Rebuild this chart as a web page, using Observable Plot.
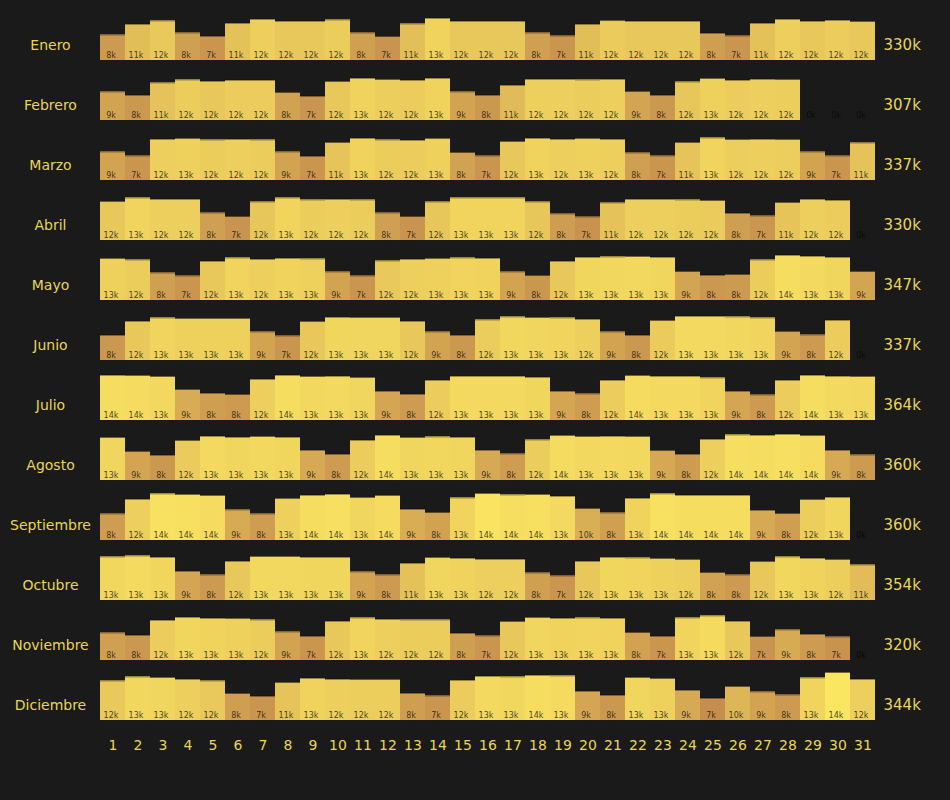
<!DOCTYPE html>
<html>
<head>
<meta charset="utf-8">
<script src="https://cdn.jsdelivr.net/npm/d3@7"></script>
<script src="https://cdn.jsdelivr.net/npm/@observablehq/plot@0.6"></script>
<style>
  html, body { margin: 0; padding: 0; background: #1a1a1a; }
  #chart { width: 950px; height: 800px; }
</style>
</head>
<body>
<div id="chart"></div>
<script>
const months = ["Enero","Febrero","Marzo","Abril","Mayo","Junio","Julio","Agosto","Septiembre","Octubre","Noviembre","Diciembre"];
const days = d3.range(1, 32);
const totals = [330, 307, 337, 330, 347, 337, 364, 360, 360, 354, 320, 344];

// daily values, thousands
const enero      = [7.7,10.9,11.9,8.3,7.3,11.2,12.4,11.8,11.8,12.2,8.3,7.2,11.0,12.7,11.8,11.8,11.8,8.3,7.4,10.9,12.0,11.8,11.8,11.8,8.2,7.4,11.2,12.4,11.8,12.1,11.7];
const febrero    = [8.6,7.6,11.3,12.2,11.8,12.1,12.1,8.4,7.3,11.7,12.7,12.3,12.1,12.7,8.6,7.6,10.6,12.4,12.4,12.2,12.4,8.7,7.6,11.6,12.6,12.1,12.4,12.3,0,0,0];
const marzo      = [8.6,7.4,12.4,12.6,12.2,12.4,12.2,8.6,7.3,11.4,12.7,12.2,12.1,12.6,8.4,7.4,11.7,12.7,12.4,12.6,12.4,8.3,7.4,11.4,12.8,12.3,12.4,12.3,8.6,7.4,11.3];
const abril      = [11.7,12.8,12.4,12.4,8.3,7.2,11.6,12.8,12.2,12.4,12.2,8.3,7.2,11.6,12.8,12.8,12.8,11.6,8.0,7.1,11.3,12.4,12.4,12.2,12.0,8.2,7.4,11.4,12.4,12.1,0];
const mayo       = [12.6,12.2,8.3,7.4,11.8,12.8,12.4,12.7,12.5,8.6,7.4,11.9,12.4,12.6,12.8,12.7,8.6,7.5,11.8,13.0,13.1,13.2,13.0,8.7,7.6,7.8,12.2,13.6,13.3,13.0,8.7];
const junio      = [7.6,11.8,12.8,12.6,12.6,12.6,8.6,7.4,11.7,13.0,12.9,12.9,11.8,8.6,7.6,12.2,13.1,12.9,12.8,12.4,8.6,7.6,12.0,13.3,13.3,13.1,12.8,8.7,7.7,12.1,0];
const julio      = [13.6,13.5,13.2,9.3,8.2,7.8,12.4,13.6,13.2,13.3,12.9,8.8,7.9,12.1,13.3,13.3,13.3,13.0,8.8,8.0,12.1,13.5,13.3,13.3,12.8,8.8,7.7,12.1,13.6,13.3,13.2];
const agosto     = [12.9,8.7,7.6,12.0,13.3,13.0,13.2,13.0,9.1,7.9,12.1,13.6,12.9,13.1,13.0,9.1,8.0,12.2,13.5,13.2,13.3,13.2,9.0,7.9,12.4,13.7,13.6,13.9,13.5,9.1,7.7];
const septiembre = [8.0,12.4,14.0,13.8,13.5,9.2,8.0,12.6,13.6,13.9,12.9,13.5,9.4,8.4,12.8,14.1,13.7,13.8,13.3,9.6,8.3,12.7,14.0,13.6,13.6,13.6,9.1,8.1,12.3,13.0,0];
const octubre    = [13.1,13.4,13.0,8.8,7.7,11.8,13.2,13.2,13.0,13.0,8.6,7.7,11.2,12.9,12.7,12.4,12.4,8.3,7.4,11.8,13.0,12.8,12.6,12.3,8.4,7.7,11.7,13.1,12.7,12.3,10.7];
const noviembre  = [8.3,7.6,12.1,13.0,12.7,12.6,12.2,8.6,7.3,11.8,12.8,12.4,12.2,12.2,8.2,7.4,11.7,12.9,12.7,12.8,12.7,8.4,7.3,12.8,13.4,11.8,7.2,9.2,7.9,7.1,0];
const diciembre  = [11.9,13.1,12.9,12.4,11.9,8.1,7.3,11.4,12.7,12.4,12.3,12.3,8.2,7.4,12.1,13.3,13.1,13.6,13.4,8.8,7.6,12.9,12.6,9.1,6.7,10.2,8.6,7.7,12.8,14.4,12.4];

const series = [enero, febrero, marzo, abril, mayo, junio, julio, agosto, septiembre, octubre, noviembre, diciembre];

const data = [];
months.forEach((m, i) => {
  series[i].forEach((v, j) => {
    data.push({month: m, day: days[j], value: v, total: totals[i]});
  });
});

const yellow = "#e9d55a";

const chart = Plot.plot({
  width: 950,
  height: 800,
  marginTop: 0,
  marginBottom: 80,
  marginLeft: 100,
  marginRight: 75,
  style: {background: "#1a1a1a", color: yellow, fontFamily: "DejaVu Sans", fontSize: "14px"},
  x: {domain: days, padding: 0, tickSize: 0, tickPadding: 20, label: null},
  y: {domain: [0, 18], axis: null},
  fy: {domain: months, padding: 0, axis: null},
  color: {type: "linear", domain: [6.6, 14.4], range: ["#c48d4d", "#fbe662"], clamp: true},
  facet: {data, y: "month"},
  marks: [
    Plot.barY(data, {x: "day", y: "value", fill: "value", insetLeft: 0, insetRight: 0, shapeRendering: "crispEdges"}),
    Plot.tickY(data, {filter: d => d.value > 0, x: "day", y: "value", stroke: "#000", strokeOpacity: 0.55, strokeWidth: 1}),
    Plot.text(data, {x: "day", frameAnchor: "bottom", dy: -3, dx: -2, text: d => Math.round(d.value) + "k", fill: "#000", fillOpacity: 0.72, fontSize: 8}),
    Plot.text(data, {filter: d => d.day === 1, frameAnchor: "bottom-left", dx: -50, dy: -11, textAnchor: "middle", text: d => d.month, fill: yellow, fontSize: 14}),
    Plot.text(data, {filter: d => d.day === 1, frameAnchor: "bottom-right", dx: 8, dy: -11, textAnchor: "start", text: d => d.total + "k", fill: yellow, fontSize: 15})
  ]
});

document.getElementById("chart").appendChild(chart);
</script>
</body>
</html>
